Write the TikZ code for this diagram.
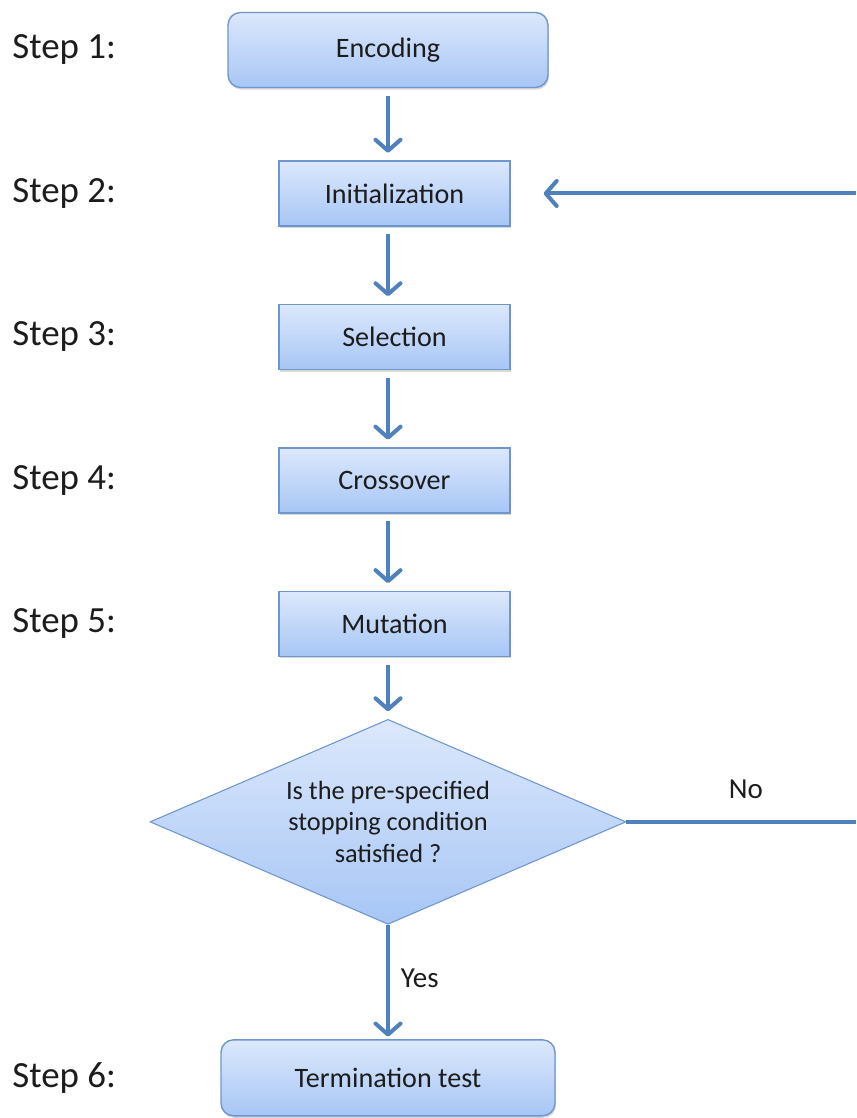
\documentclass[tikz,border=0pt]{standalone}
\usepackage{fontspec}
\setmainfont{Carlito}
\usepackage{xcolor}
\definecolor{boxtop}{HTML}{DCE8FC}
\definecolor{boxbot}{HTML}{A7C6F5}
\definecolor{boxline}{HTML}{6E96CE}
\definecolor{flowblue}{HTML}{4F81BD}
\definecolor{txt}{HTML}{1C1C1C}
\usetikzlibrary{arrows.meta,positioning,shapes.geometric,shadows}

\begin{document}
\begin{tikzpicture}[x=0.02cm,y=-0.02cm,>={Straight Barb[length=2.2mm,width=5mm,line width=0pt 1,round]},node distance=2.87cm,on grid]
  \tikzstyle{every node}=[text=txt]
  \tikzstyle{stepbox}=[rectangle,draw=boxline,line width=0.8pt,top color=boxtop,bottom color=boxbot,
                       minimum width=4.62cm,minimum height=1.3cm,font=\fontsize{16}{19}\selectfont,
                       drop shadow={shadow xshift=0.6pt,shadow yshift=-1.2pt,opacity=0.3}]
  \tikzstyle{roundbox}=[stepbox,rounded corners=0.25cm]
  \tikzstyle{decision}=[diamond,aspect=2.3,draw=boxline,line width=0.6pt,top color=boxtop,bottom color=boxbot,
                        minimum width=9.52cm,minimum height=4.1cm,inner sep=0pt,align=center,
                        font=\fontsize{15}{18}\selectfont]
  \tikzstyle{flow}=[->,draw=flowblue,line width=2.3pt,shorten >=0.15cm,shorten <=0.15cm]
  \tikzstyle{noflow}=[draw=flowblue,line width=2.3pt]
  \tikzstyle{steplbl}=[anchor=west,inner sep=0pt,font=\fontsize{21}{25}\selectfont]
  \tikzstyle{answer}=[on grid=false,font=\fontsize{16.5}{20}\selectfont]

  \useasboundingbox (0,0) rectangle (856,1118);

  % the six steps
  \node[roundbox,minimum width=6.4cm,minimum height=1.5cm] (enc) at (388,50) {Encoding};
  \node[stepbox] (init)  [below right=2.87cm and 0.13cm of enc] {Initialization};
  \node[stepbox] (sel)   [below=of init]  {Selection};
  \node[stepbox] (cross) [below=of sel]   {Crossover};
  \node[stepbox] (mut)   [below=of cross] {Mutation};
  \node[decision] (cond) [below left=3.96cm and 0.13cm of mut] {Is the pre-specified\\stopping condition\\satisfied ?};
  \node[roundbox,minimum width=6.68cm,minimum height=1.52cm] (term) [below=5.12cm of cond] {Termination test};

  \foreach \n/\b in {1/enc,2/init,3/sel,4/cross,5/mut,6/term}
    \node[steplbl] (step\n) at (12,0 |- \b) {Step \n:};

  % arrows
  \draw[flow] (enc.south) -- (enc.south |- init.north);
  \draw[flow] (init.south -| enc) -- (sel.north -| enc);
  \draw[flow] (sel.south -| enc) -- (cross.north -| enc);
  \draw[flow] (cross.south -| enc) -- (mut.north -| enc);
  \draw[flow] (mut.south -| enc) -- (cond.north);
  \draw[flow,shorten <=0pt,shorten >=0.05cm] (cond.south) -- (term.north)
        node[answer,pos=0.47,right=0.1cm] {Yes};

  % loop back (cut at the right edge)
  \coordinate (noend) at (856,0 |- cond);
  \coordinate (back)  at (856,0 |- init);
  \draw[noflow] (cond.east) -- (noend) node[answer,pos=0.52,above=0.3cm] {No};
  \draw[flow,shorten <=0pt,shorten >=0.66cm] (back) -- (init.east);
\end{tikzpicture}
\end{document}
